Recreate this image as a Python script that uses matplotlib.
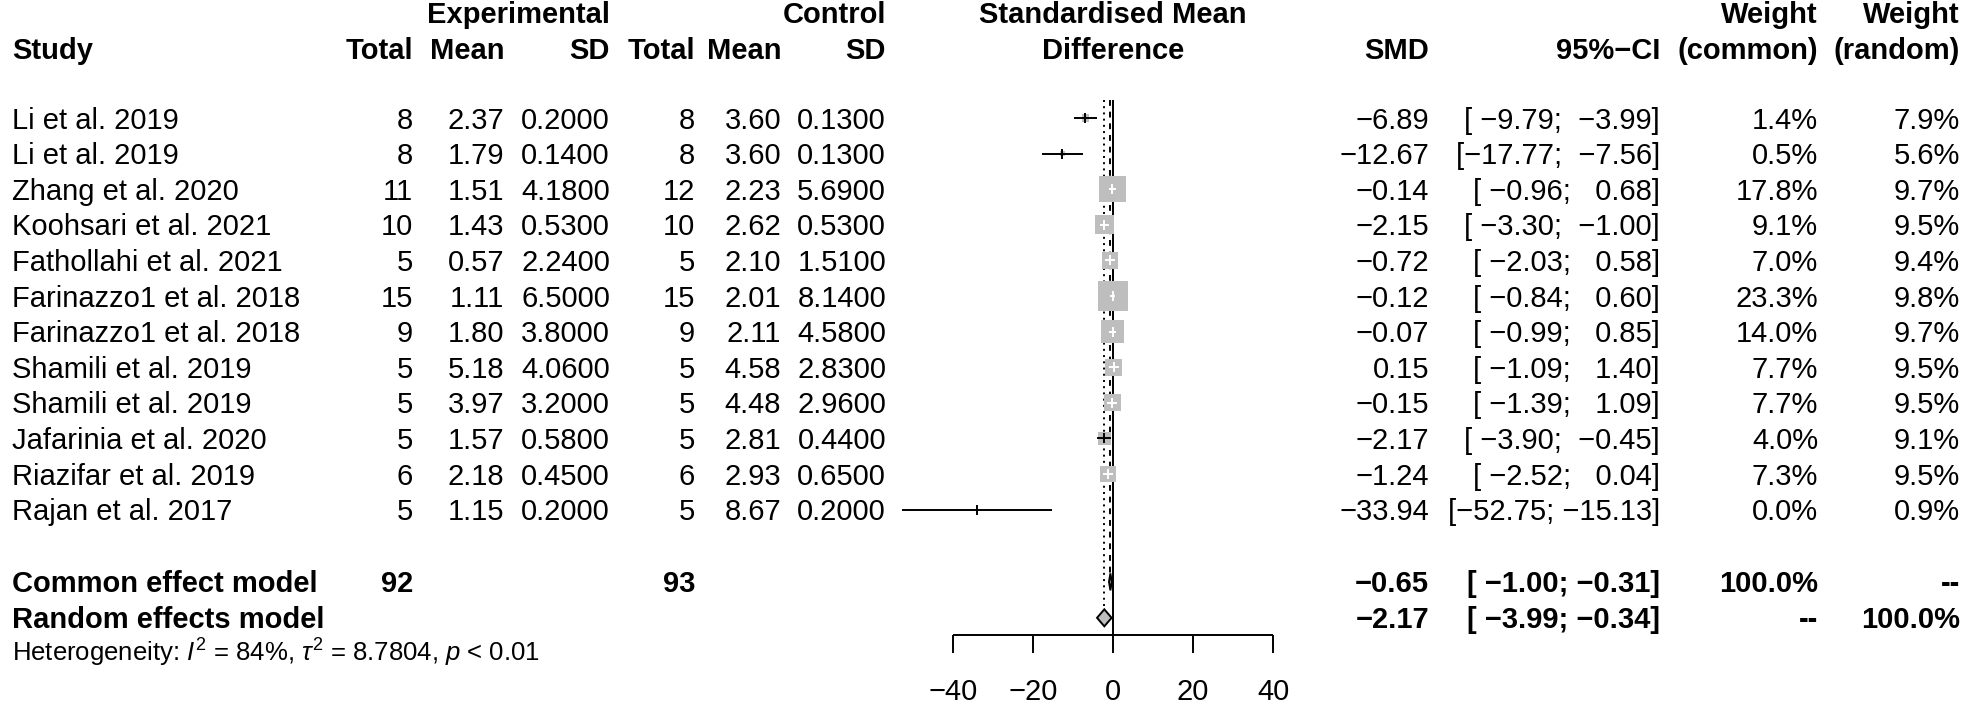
import matplotlib
matplotlib.use("Agg")
import matplotlib.pyplot as plt
from matplotlib.transforms import blended_transform_factory
import numpy as np

plt.rcParams['font.family'] = ['Liberation Sans', 'DejaVu Sans']
plt.rcParams['mathtext.fontset'] = 'custom'
plt.rcParams['mathtext.rm'] = 'Liberation Sans'
plt.rcParams['mathtext.it'] = 'Liberation Sans:italic'

# data
study = ["Li et al. 2019", "Li et al. 2019", "Zhang et al. 2020", "Koohsari et al. 2021",
         "Fathollahi et al. 2021", "Farinazzo1 et al. 2018", "Farinazzo1 et al. 2018",
         "Shamili et al. 2019", "Shamili et al. 2019", "Jafarinia et al. 2020",
         "Riazifar et al. 2019", "Rajan et al. 2017"]
exp_n = [8, 8, 11, 10, 5, 15, 9, 5, 5, 5, 6, 5]
exp_mean = [2.37, 1.79, 1.51, 1.43, 0.57, 1.11, 1.80, 5.18, 3.97, 1.57, 2.18, 1.15]
exp_sd = [0.2000, 0.1400, 4.1800, 0.5300, 2.2400, 6.5000, 3.8000, 4.0600, 3.2000, 0.5800, 0.4500, 0.2000]
ctl_n = [8, 8, 12, 10, 5, 15, 9, 5, 5, 5, 6, 5]
ctl_mean = [3.60, 3.60, 2.23, 2.62, 2.10, 2.01, 2.11, 4.58, 4.48, 2.81, 2.93, 8.67]
ctl_sd = [0.1300, 0.1300, 5.6900, 0.5300, 1.5100, 8.1400, 4.5800, 2.8300, 2.9600, 0.4400, 0.6500, 0.2000]
smd = [-6.89, -12.67, -0.14, -2.15, -0.72, -0.12, -0.07, 0.15, -0.15, -2.17, -1.24, -33.94]
lower = [-9.79, -17.77, -0.96, -3.30, -2.03, -0.84, -0.99, -1.09, -1.39, -3.90, -2.52, -52.75]
upper = [-3.99, -7.56, 0.68, -1.00, 0.58, 0.60, 0.85, 1.40, 1.09, -0.45, 0.04, -15.13]
w_common = [1.4, 0.5, 17.8, 9.1, 7.0, 23.3, 14.0, 7.7, 7.7, 4.0, 7.3, 0.0]
w_random = [7.9, 5.6, 9.7, 9.5, 9.4, 9.8, 9.7, 9.5, 9.5, 9.1, 9.5, 0.9]

common_est, common_lo, common_hi = -0.65, -1.00, -0.31
random_est, random_lo, random_hi = -2.17, -3.99, -0.34
total_exp, total_ctl = 92, 93
xticks = [-40, -20, 0, 20, 40]

W, H = 1969, 716
fig = plt.figure(figsize=(W / 100, H / 100), dpi=100)
ax = fig.add_axes([0, 0, 1, 1])
ax.axis("off")
x0_px, ppu = 1113, 4.0          # pixel of x=0, pixels per SMD unit
y0_px, ppr = 118, 35.6          # pixel of first study row, pixels per row
ax.set_xlim(-x0_px / ppu, (W - x0_px) / ppu)
ax.set_ylim((H - y0_px) / ppr, -y0_px / ppr)

tr = blended_transform_factory(fig.transFigure, ax.transData)
FS = 21
BASE = 0.295   # baseline offset (rows) so text is centred on a row


def put(xpx, row, s, ha="right", bold=False, fs=FS):
    ax.text(xpx / W, row + BASE * fs / FS, s, transform=tr, ha=ha, va="baseline",
            fontsize=fs, fontweight="bold" if bold else "normal")


def fmt(v, d=2):
    return f"{v:.{d}f}".replace("-", "\u2212")


# column right edges (px)
c_study, c_en, c_em, c_es, c_cn, c_cm, c_cs = 12, 413, 504, 610, 695, 781, 886
c_smd, c_ci, c_wc, c_wr = 1429, 1660, 1818, 1960

# headers
put(c_es, -2.95, "Experimental", bold=True)
put(c_cs, -2.95, "Control", bold=True)
put(x0_px, -2.95, "Standardised Mean", ha="center", bold=True)
put(c_wc, -2.95, "Weight", bold=True)
put(c_wr, -2.95, "Weight", bold=True)
hr = -1.95
put(c_study, hr, "Study", ha="left", bold=True)
for xp, s in [(c_en, "Total"), (c_em, "Mean"), (c_es, "SD"), (c_cn, "Total"),
              (c_cm, "Mean"), (c_cs, "SD"), (c_smd, "SMD"), (c_ci, "95%\u2212CI"),
              (c_wc, "(common)"), (c_wr, "(random)")]:
    put(xp, hr, s, bold=True)
put(x0_px, hr, "Difference", ha="center", bold=True)

# CI strings padded like R's format()
lo_s = [fmt(v) for v in lower]
hi_s = [fmt(v) for v in upper]
wl = max(len(s) for s in lo_s)
wh = max(len(s) for s in hi_s)

n = len(study)
rows = np.arange(n)
for i in range(n):
    r = rows[i]
    put(c_study, r, study[i], ha="left")
    put(c_en, r, str(exp_n[i]))
    put(c_em, r, fmt(exp_mean[i]))
    put(c_es, r, fmt(exp_sd[i], 4))
    put(c_cn, r, str(ctl_n[i]))
    put(c_cm, r, fmt(ctl_mean[i]))
    put(c_cs, r, fmt(ctl_sd[i], 4))
    put(c_smd, r, fmt(smd[i]))
    put(c_ci, r, "[" + lo_s[i].rjust(wl) + "; " + hi_s[i].rjust(wh) + "]")
    put(c_wc, r, f"{w_common[i]:.1f}%")
    put(c_wr, r, f"{w_random[i]:.1f}%")

r_com, r_ran, r_het = 13.03, 14.04, 15.0
put(c_study, r_com, "Common effect model", ha="left", bold=True)
put(c_en, r_com, str(total_exp), bold=True)
put(c_cn, r_com, str(total_ctl), bold=True)
put(c_smd, r_com, fmt(common_est), bold=True)
put(c_ci, r_com, "[ " + fmt(common_lo) + "; " + fmt(common_hi) + "]", bold=True)
put(c_wc, r_com, "100.0%", bold=True)
put(c_wr, r_com, "--", bold=True)
put(c_study, r_ran, "Random effects model", ha="left", bold=True)
put(c_smd, r_ran, fmt(random_est), bold=True)
put(c_ci, r_ran, "[ " + fmt(random_lo) + "; " + fmt(random_hi) + "]", bold=True)
put(c_wc, r_ran, "--", bold=True)
put(c_wr, r_ran, "100.0%", bold=True)
put(c_study, r_het, r"Heterogeneity: $I^2$ = 84%, $\tau^2$ = 8.7804, $p$ < 0.01",
    ha="left", fs=18.5)

# reference lines
top, axis_row = -0.5, 14.52
LW = 1.4
ax.vlines(0, top, axis_row, color="black", lw=LW, zorder=1)
ax.vlines(common_est, top, r_com, color="black", lw=LW, linestyles=(0, (3, 3)), zorder=1)
ax.vlines(random_est, top, r_ran - 0.3, color="black", lw=LW, linestyles=(0, (1, 2.2)), zorder=1)

# squares + CIs
grey = "#BEBEBE"
max_side_px = 30.0
side_px = max_side_px * np.sqrt(np.array(w_common) / max(w_common))
ax.scatter(smd, rows, s=(side_px * 0.72) ** 2, marker="s", color=grey, linewidths=0, zorder=2)
for i in range(n):
    half = side_px[i] / 2 / ppu
    inside = w_common[i] > 0 and lower[i] >= smd[i] - half and upper[i] <= smd[i] + half
    col = "white" if inside else "black"
    ax.hlines(rows[i], lower[i], upper[i], color=col, lw=LW, zorder=3)
    ax.plot([smd[i]], [rows[i]], marker="|", ms=7.5, mew=LW, color=col, zorder=3)

# diamonds
dh = 8.5 / ppr
for est, lo, hi, r in [(common_est, common_lo, common_hi, r_com),
                       (random_est, random_lo, random_hi, r_ran)]:
    ax.fill([lo, est, hi, est], [r, r - dh, r, r + dh], facecolor=grey,
            edgecolor="black", lw=LW, zorder=3)

# x axis
ax.hlines(axis_row, xticks[0], xticks[-1], color="black", lw=LW)
ax.vlines(xticks, axis_row, axis_row + 18 / ppr, color="black", lw=LW)
for t in xticks:
    ax.text(t, 16.36, fmt(t, 0), ha="center", va="baseline", fontsize=FS)

fig.savefig("out.png", dpi=100)
